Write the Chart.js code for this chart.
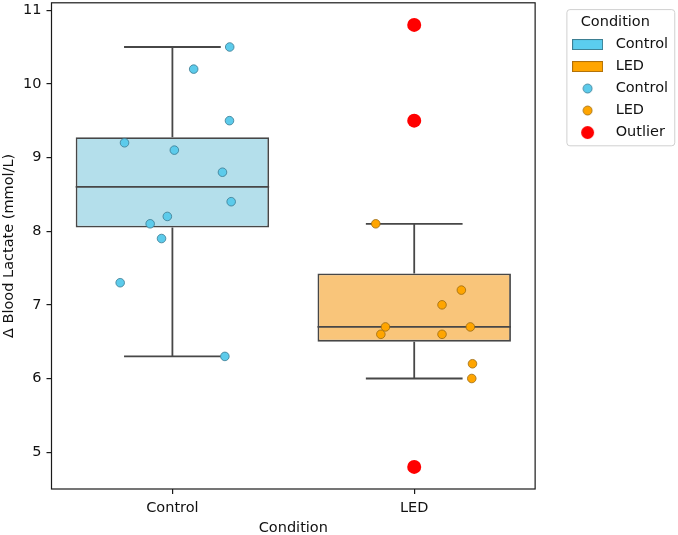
<!DOCTYPE html>
<html>
<head>
<meta charset="utf-8">
<script src="https://cdn.jsdelivr.net/npm/chart.js@4.4.1/dist/chart.umd.min.js"></script>
<style>
  html, body { margin: 0; padding: 0; background: #fff; }
  #wrap { width: 678px; height: 535px; }
</style>
</head>
<body>
<div id="wrap"><canvas id="chart" width="678" height="535"></canvas></div>
<script>
Chart.defaults.font.family = 'DejaVu Sans';
Chart.defaults.font.size = 14.5;
Chart.defaults.color = '#111';

const categories = ['Control', 'LED'];
const yTicks = [5, 6, 7, 8, 9, 10, 11];

// box statistics per condition
const q1 = [8.05, 6.5];
const median = [8.6, 6.7];
const q3 = [9.275, 7.425];
const whiskerLow = [6.3, 6.0];
const whiskerHigh = [10.5, 8.1];

// strip points: value and horizontal jitter from the category centre
const controlValues = [10.5, 10.2, 9.5, 9.2, 9.1, 8.8, 8.4, 8.2, 8.1, 7.9, 7.3, 6.3];
const controlJitter = [0.237, 0.088, 0.236, -0.198, 0.008, 0.207, 0.243, -0.021, -0.092, -0.045, -0.216, 0.217];
const ledValues = [8.1, 7.2, 7.0, 6.7, 6.7, 6.6, 6.6, 6.2, 6.0];
const ledJitter = [-0.159, 0.195, 0.115, -0.119, 0.232, -0.138, 0.115, 0.241, 0.238];
const outlierValues = [10.8, 9.5, 4.8];
const outlierCategory = [1, 1, 1];

const boxFill = ['#b4dfeb', '#f9c57a'];
const pointFill = ['#5ccbeb', '#ffa500'];
const pointEdge = ['#3b7a90', '#9a6a10'];
const patchFill = ['#5bcdee', '#ffa500'];
const patchEdge = ['#3d7f92', '#b0700a'];
const lineColor = '#474747';

const markerCanvas = function markerCanvas(w, h, draw) {
  const c = document.createElement('canvas');
  c.width = w;
  c.height = h;
  draw(c.getContext('2d'));
  return c;
}
const patch = function patch(fill, edge) {
  return markerCanvas(31, 11, ctx => {
    ctx.fillStyle = fill;
    ctx.strokeStyle = edge;
    ctx.lineWidth = 1;
    ctx.fillRect(0.5, 0.5, 30, 10);
    ctx.strokeRect(0.5, 0.5, 30, 10);
  });
}
const dot = function dot(r, fill, edge) {
  const s = Math.ceil(r * 2 + 2);
  return markerCanvas(s, s, ctx => {
    ctx.beginPath();
    ctx.arc(s / 2, s / 2, r, 0, Math.PI * 2);
    ctx.fillStyle = fill;
    ctx.fill();
    if (edge) {
      ctx.strokeStyle = edge;
      ctx.lineWidth = 0.8;
      ctx.stroke();
    }
  });
}

// whiskers + caps as one broken line, median as another
var whiskerData = [], medianData = [];
categories.forEach((c, i) => {
  whiskerData.push({ x: i, y: q3[i] }, { x: i, y: whiskerHigh[i] }, { x: i, y: null });
  whiskerData.push({ x: i - 0.2, y: whiskerHigh[i] }, { x: i + 0.2, y: whiskerHigh[i] }, { x: i, y: null });
  whiskerData.push({ x: i, y: q1[i] }, { x: i, y: whiskerLow[i] }, { x: i, y: null });
  whiskerData.push({ x: i - 0.2, y: whiskerLow[i] }, { x: i + 0.2, y: whiskerLow[i] }, { x: i, y: null });
  medianData.push({ x: i - 0.4, y: median[i] }, { x: i + 0.4, y: median[i] }, { x: i, y: null });
});

const framePlugin = {
  id: 'frame',
  beforeDraw: chart => {
    const ctx = chart.ctx;
    const lg = chart.legend;
    const boxes = lg.legendHitBoxes;
    const last = boxes[boxes.length - 1];
    const x = lg.left + 7, y = lg.top + 6.3;
    const w = lg.width - 4, h = last.top + last.height + 5.5 - y;
    ctx.save();
    ctx.beginPath();
    ctx.roundRect(x + 0.5, y + 0.5, w, h, 3);
    ctx.fillStyle = '#fff';
    ctx.fill();
    ctx.strokeStyle = '#d0d0d0';
    ctx.lineWidth = 1;
    ctx.stroke();
    ctx.restore();
  },
  afterDraw: chart => {
    const ctx = chart.ctx;
    const a = chart.chartArea;
    ctx.save();
    ctx.strokeStyle = '#1a1a1a';
    ctx.lineWidth = 1.2;
    ctx.strokeRect(a.left, a.top, a.right - a.left, a.bottom - a.top);
    ctx.restore();
  }
};

const chart = new Chart(document.getElementById('chart'), {
  type: 'scatter',
  plugins: [framePlugin],
  data: {
    datasets: [{
      type: 'scatter',
      label: 'Outlier',
      order: 1,
      data: outlierValues.map((v, k) => ({ x: outlierCategory[k], y: v })),
      pointRadius: 7,
      pointBackgroundColor: '#ff0000',
      pointBorderWidth: 0
    }, {
      type: 'scatter',
      label: 'Control',
      order: 2,
      data: controlValues.map((v, k) => ({ x: 0 + controlJitter[k], y: v })),
      pointRadius: 4.3,
      pointBackgroundColor: pointFill[0],
      pointBorderColor: pointEdge[0],
      pointBorderWidth: 0.8
    }, {
      type: 'scatter',
      label: 'LED',
      order: 2,
      data: ledValues.map((v, k) => ({ x: 1 + ledJitter[k], y: v })),
      pointRadius: 4.3,
      pointBackgroundColor: pointFill[1],
      pointBorderColor: pointEdge[1],
      pointBorderWidth: 0.8
    }, {
      type: 'line',
      label: 'median',
      order: 3,
      data: medianData,
      borderColor: lineColor,
      borderWidth: 1.8,
      pointRadius: 0,
      spanGaps: false
    }, {
      type: 'line',
      label: 'whiskers',
      order: 4,
      data: whiskerData,
      borderColor: lineColor,
      borderWidth: 1.8,
      pointRadius: 0,
      spanGaps: false
    }, {
      type: 'bar',
      label: 'box',
      order: 5,
      data: categories.map((c, i) => ({ x: i, y: [q1[i], q3[i]] })),
      backgroundColor: boxFill,
      borderColor: lineColor,
      borderWidth: 1.8,
      borderSkipped: false,
      barPercentage: 0.8,
      categoryPercentage: 1.0
    }]
  },
  options: {
    responsive: false,
    animation: false,
    layout: { autoPadding: false, padding: { top: 2.8, left: 0, right: 6.75, bottom: 0 } },
    plugins: {
      tooltip: { enabled: false },
      legend: {
        position: 'right',
        align: 'start',
        onClick: () => {},
        title: {
          display: true,
          text: 'Condition',
          color: '#111',
          font: { size: 14.5, lineHeight: 1 },
          padding: { top: 12.5, bottom: 0 }
        },
        labels: {
          usePointStyle: true,
          pointStyleWidth: 41.5,
          boxHeight: 14.8,
          padding: 7.5,
          color: '#111',
          generateLabels: () => [
            { text: categories[0], pointStyle: patch(patchFill[0], patchEdge[0]), lineWidth: 0 },
            { text: categories[1], pointStyle: patch(patchFill[1], patchEdge[1]), lineWidth: 0 },
            { text: categories[0], pointStyle: dot(4.5, pointFill[0], pointEdge[0]), lineWidth: 0 },
            { text: categories[1], pointStyle: dot(4.5, pointFill[1], pointEdge[1]), lineWidth: 0 },
            { text: 'Outlier', pointStyle: dot(6.5, '#ff0000'), lineWidth: 0 }
          ]
        }
      }
    },
    scales: {
      x: {
        type: 'linear',
        min: -0.5,
        max: 1.5,
        offset: false,
        afterBuildTicks: scale => { scale.ticks = categories.map((c, i) => ({ value: i })); },
        afterFit: scale => { scale.height = 46; scale.paddingLeft = 0; scale.paddingRight = 0; },
        ticks: {
          autoSkip: false,
          maxRotation: 0,
          padding: 6.5,
          color: '#111',
          font: { lineHeight: 1 },
          callback: value => categories[value]
        },
        grid: { display: true, offset: false, drawOnChartArea: false, drawTicks: true, tickLength: 5, color: '#1a1a1a', lineWidth: 1.2 },
        border: { display: false },
        title: { display: true, text: 'Condition', color: '#111', font: { lineHeight: 1 }, padding: { top: 0, bottom: 0 } }
      },
      y: {
        min: 4.5,
        max: 11.1,
        stacked: false,
        afterBuildTicks: scale => { scale.ticks = yTicks.map(v => ({ value: v })); },
        afterFit: scale => { scale.width = 51.5; scale.paddingTop = 0; scale.paddingBottom = 0; },
        ticks: { padding: 5, color: '#111', font: { lineHeight: 1 } },
        grid: { display: true, drawOnChartArea: false, drawTicks: true, tickLength: 5, color: '#1a1a1a', lineWidth: 1.2 },
        border: { display: false },
        title: { display: true, text: 'Δ Blood Lactate (mmol/L)', color: '#111', font: { lineHeight: 1 }, padding: { top: 1.5, bottom: 0 } }
      },
      gap: {
        type: 'linear',
        position: 'right',
        display: true,
        grid: { display: false },
        border: { display: false },
        ticks: { display: false },
        afterFit: scale => { scale.width = 24.25; }
      }
    }
  }
});
</script>
</body>
</html>
